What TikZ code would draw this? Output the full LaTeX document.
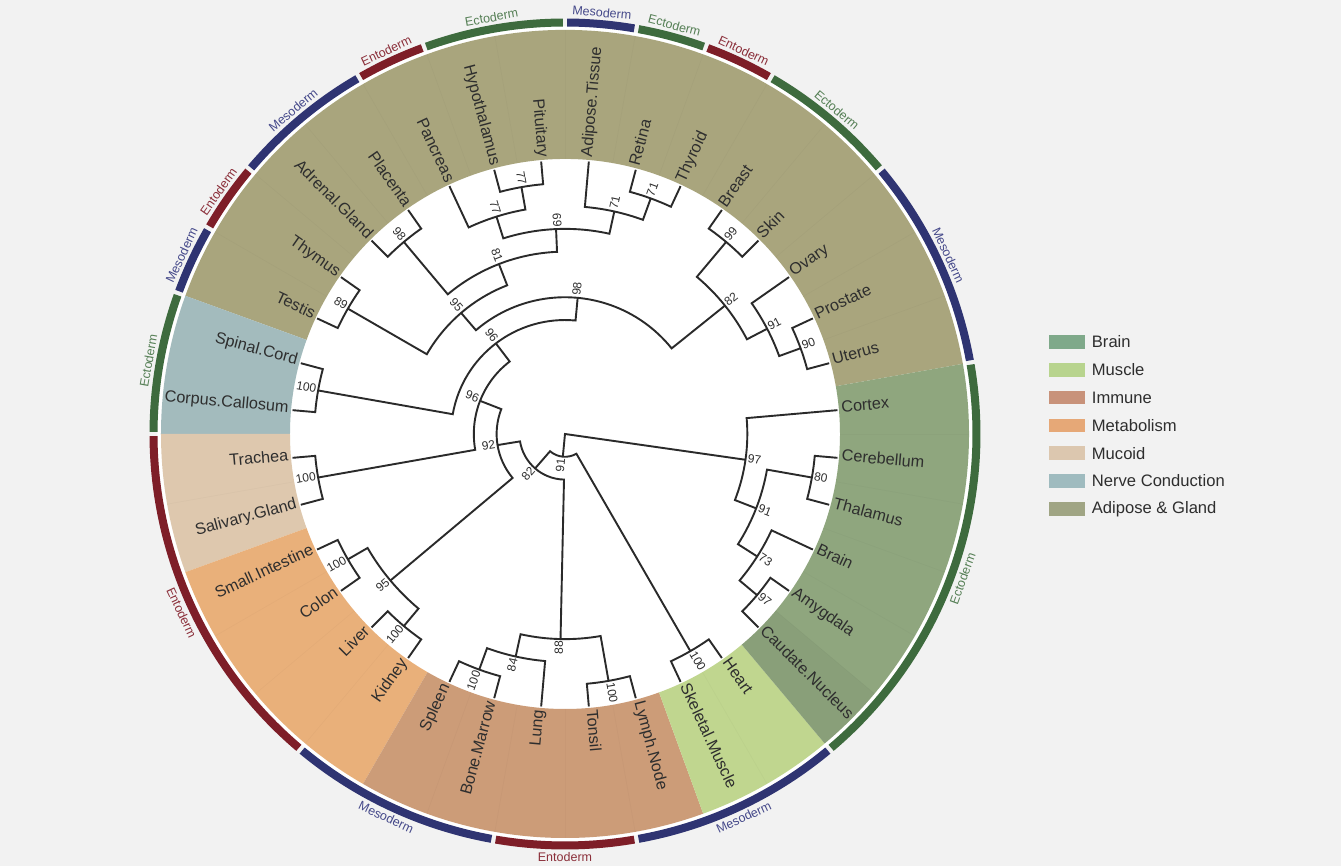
\documentclass[tikz,border=0pt]{standalone}
\usepackage{fontspec}
\setmainfont{Liberation Sans}
\usetikzlibrary{positioning}

\definecolor{bgcol}{HTML}{F2F2F2}
\definecolor{inkcol}{HTML}{2A2A2A}
\definecolor{leafcol}{HTML}{2E2E2E}
% sector colours
\definecolor{brainsec}{HTML}{8FA67E}
\definecolor{musclesec}{HTML}{C0D68F}
\definecolor{immunesec}{HTML}{CC9C78}
\definecolor{metabsec}{HTML}{E9B07A}
\definecolor{mucoidsec}{HTML}{DEC8AE}
\definecolor{nervesec}{HTML}{A3BBBD}
\definecolor{glandsec}{HTML}{A9A57D}
% legend colours
\definecolor{brainkey}{HTML}{7FA98A}
\definecolor{musclekey}{HTML}{B8D48E}
\definecolor{immunekey}{HTML}{C8927A}
\definecolor{metabkey}{HTML}{E6A877}
\definecolor{mucoidkey}{HTML}{DCC7AF}
\definecolor{nervekey}{HTML}{9FBBBF}
\definecolor{glandkey}{HTML}{A0A584}
% germ layers
\definecolor{ectocol}{HTML}{3E6B3E}
\definecolor{mesocol}{HTML}{2F3472}
\definecolor{entocol}{HTML}{7E1E28}
\definecolor{ectotxt}{HTML}{557F55}
\definecolor{mesotxt}{HTML}{45498A}
\definecolor{entotxt}{HTML}{8B2F3A}

\def\rtip{273.5}
\def\rlab{277.5}
\def\rin{275}
\def\rsec{404}

\begin{document}
\begin{tikzpicture}[x=1pt, y=1pt,
    branch/.style={draw=inkcol, line width=1.9pt},
    leaflab/.style={text=leafcol, inner sep=0pt, font=\fontsize{16.2}{18}\selectfont},
    bslab/.style={text=leafcol, inner sep=2pt, font=\fontsize{12}{14}\selectfont},
    germlab/.style={inner sep=0pt, font=\fontsize{12.5}{14}\selectfont},
    keybox/.style={minimum width=36pt, minimum height=13.5pt, inner sep=0pt},
    keytext/.style={text=leafcol, inner sep=0pt, font=\fontsize{16.6}{18}\selectfont}]

    % Hintergrund
    \useasboundingbox (-565,-432) rectangle (776,434);
    \fill[bgcol] (-565,-432) rectangle (776,434);
    \fill[white] (0,0) circle (407.5);

    % Sektoren der Gewebegruppen
    \foreach \a/\b/\col in {10/160/glandsec, 160/180/nervesec, 180/200/mucoidsec,
        200/240/metabsec, 240/290/immunesec, 290/310/musclesec, 310/370/brainsec}
        \fill[fill=\col] (\a:\rin) arc[start angle=\a, end angle=\b, radius=\rin]
            -- (\b:\rsec) arc[start angle=\b, end angle=\a, radius=\rsec] -- cycle;
    \fill[black, opacity=0.04] (310:\rin) arc[start angle=310, end angle=320, radius=\rin]
        -- (320:\rsec) arc[start angle=320, end angle=310, radius=\rsec] -- cycle;
    \foreach \a in {20,30,...,150,190,210,220,230,250,260,...,280,300,320,330,...,360}
        \draw[black, opacity=0.02, line width=0.8pt] (\a:\rin) -- (\a:\rsec);

    % Keimblatt-Ring mit Beschriftung
    \foreach \a/\b/\col/\tcol/\txt in {10/40/mesocol/mesotxt/Mesoderm, 40/60/ectocol/ectotxt/Ectoderm,
        60/70/entocol/entotxt/Entoderm, 70/80/ectocol/ectotxt/Ectoderm, 80/90/mesocol/mesotxt/Mesoderm,
        90/110/ectocol/ectotxt/Ectoderm, 110/120/entocol/entotxt/Entoderm, 120/140/mesocol/mesotxt/Mesoderm,
        140/150/entocol/entotxt/Entoderm, 150/160/mesocol/mesotxt/Mesoderm, 160/180/ectocol/ectotxt/Ectoderm,
        180/230/entocol/entotxt/Entoderm, 230/260/mesocol/mesotxt/Mesoderm, 260/280/entocol/entotxt/Entoderm,
        280/310/mesocol/mesotxt/Mesoderm, 310/370/ectocol/ectotxt/Ectoderm} {
        \pgfmathsetmacro\ga{\a+0.3}
        \pgfmathsetmacro\gb{\b-0.3}
        \pgfmathsetmacro\gm{(\a+\b)/2}
        \pgfmathsetmacro\rot{\gm<180 ? \gm-90 : \gm+90}
        \fill[fill=\col] (\ga:407.5) arc[start angle=\ga, end angle=\gb, radius=407.5]
            -- (\gb:415.5) arc[start angle=\gb, end angle=\ga, radius=415.5] -- cycle;
        \node[germlab, text=\tcol, rotate=\rot] at (\gm:423) {\txt};
    }

    % Blaetter
    \foreach \nm/\a/\txt in {cortex/365/Cortex, uterus/15/Uterus, prostate/25/Prostate, ovary/35/Ovary,
        skin/45/Skin, breast/55/Breast, thyroid/65/Thyroid, retina/75/Retina, adipose/85/Adipose.Tissue,
        pituitary/95/Pituitary, hypothalamus/105/Hypothalamus, pancreas/115/Pancreas, placenta/125/Placenta,
        adrenal/135/Adrenal.Gland, thymus/145/Thymus, testis/155/Testis, spinal/165/Spinal.Cord,
        corpus/175/Corpus.Callosum, trachea/185/Trachea, salivary/195/Salivary.Gland,
        smallint/205/Small.Intestine, colon/215/Colon, liver/225/Liver, kidney/235/Kidney,
        spleen/245/Spleen, marrow/255/Bone.Marrow, lung/265/Lung, tonsil/275/Tonsil,
        lymph/285/Lymph.Node, skeletal/295/Skeletal.Muscle, heart/305/Heart, caudate/315/Caudate.Nucleus,
        amygdala/325/Amygdala, brain/335/Brain, thalamus/345/Thalamus, cerebellum/355/Cerebellum} {
        \coordinate (\nm) at (\a:\rtip);
        \pgfmathtruncatemacro\flip{cos(\a)<0 ? 1 : 0}
        \ifnum\flip=1
            \pgfmathsetmacro\rot{\a+180}
            \node[leaflab, anchor=mid east, rotate=\rot] (\nm-lab) at (\a:\rlab) {\txt};
        \else
            \node[leaflab, anchor=mid west, rotate=\a] (\nm-lab) at (\a:\rlab) {\txt};
        \fi
    }

    % innere Knoten: Name/Winkel/Ebene/Kind1/Winkel1/Kind2/Winkel2/Bootstrap
    \foreach \nm/\a/\h/\ca/\aa/\cb/\ab/\bs in {
        n80/350/1/cerebellum/355/thalamus/345/80,
        n97b/320/1/amygdala/325/caudate/315/97,
        n73/327.5/2/brain/335/n97b/320/73,
        n91b/338.75/3/n80/350/n73/327.5/91,
        n97a/351.875/4/cortex/365/n91b/338.75/97,
        n99/50/1/breast/55/skin/45/99,
        n90/20/1/prostate/25/uterus/15/90,
        n91a/27.5/2/ovary/35/n90/20/91,
        n82a/38.75/3/n99/50/n91a/27.5/82,
        n71a/70/1/retina/75/thyroid/65/71,
        n71b/77.5/2/adipose/85/n71a/70/71,
        n77a/100/1/hypothalamus/105/pituitary/95/77,
        n77b/107.5/2/pancreas/115/n77a/100/77,
        n69/92.5/3/n77b/107.5/n71b/77.5/69,
        n98a/130/1/adrenal/135/placenta/125/98,
        n81/111.25/4/n98a/130/n69/92.5/81,
        n89/150/1/testis/155/thymus/145/89,
        n95a/130.625/5/n89/150/n81/111.25/95,
        n98b/84.6875/6/n95a/130.625/n82a/38.75/98,
        n100a/170/1/corpus/175/spinal/165/100,
        n96a/127.34375/7/n100a/170/n98b/84.6875/96,
        n100b/190/1/salivary/195/trachea/185/100,
        n96b/158.671875/8/n100b/190/n96a/127.34375/96,
        n100c/210/1/colon/215/smallint/205/100,
        n100d/230/1/kidney/235/liver/225/100,
        n95b/220/2/n100d/230/n100c/210/95,
        n92/189.3359375/9/n95b/220/n96b/158.671875/92,
        n100e/250/1/marrow/255/spleen/245/100,
        n84/257.5/2/lung/265/n100e/250/84,
        n100f/280/1/lymph/285/tonsil/275/100,
        n88/268.75/3/n100f/280/n84/257.5/88,
        n82b/229.04296875/10/n88/268.75/n92/189.3359375/82,
        n100g/300/1/heart/305/skeletal/295/100,
        n91c/264.521484375/11/n100g/300/n82b/229.04296875/91} {
        \pgfmathsetmacro\rn{\rtip*(12-\h)/12}
        \coordinate (\nm) at (\a:\rn);
        \draw[branch] (\ca) -- (\aa:\rn) arc[start angle=\aa, end angle=\ab, radius=\rn] -- (\cb);
        \pgfmathtruncatemacro\flip{cos(\a)<0 ? 1 : 0}
        \ifnum\flip=1
            \pgfmathsetmacro\rot{\a+180}
            \node[bslab, anchor=mid east, rotate=\rot] at (\nm) {\bs};
        \else
            \node[bslab, anchor=mid west, rotate=\a] at (\nm) {\bs};
        \fi
    }

    % Wurzel
    \coordinate (root) at (0,0);
    \draw[branch] (n91c) -- (root) -- (n97a);

    % Legende
    \foreach \i/\col/\txt in {0/brainkey/Brain, 1/musclekey/Muscle, 2/immunekey/Immune,
        3/metabkey/Metabolism, 4/mucoidkey/Mucoid, 5/nervekey/Nerve Conduction,
        6/glandkey/Adipose \& Gland} {
        \node[keybox, fill=\col] (key\i) at (502, 92-27.8*\i) {};
        \node[keytext, right=6.5pt of key\i] (keytext\i) {\txt};
    }
\end{tikzpicture}
\end{document}
